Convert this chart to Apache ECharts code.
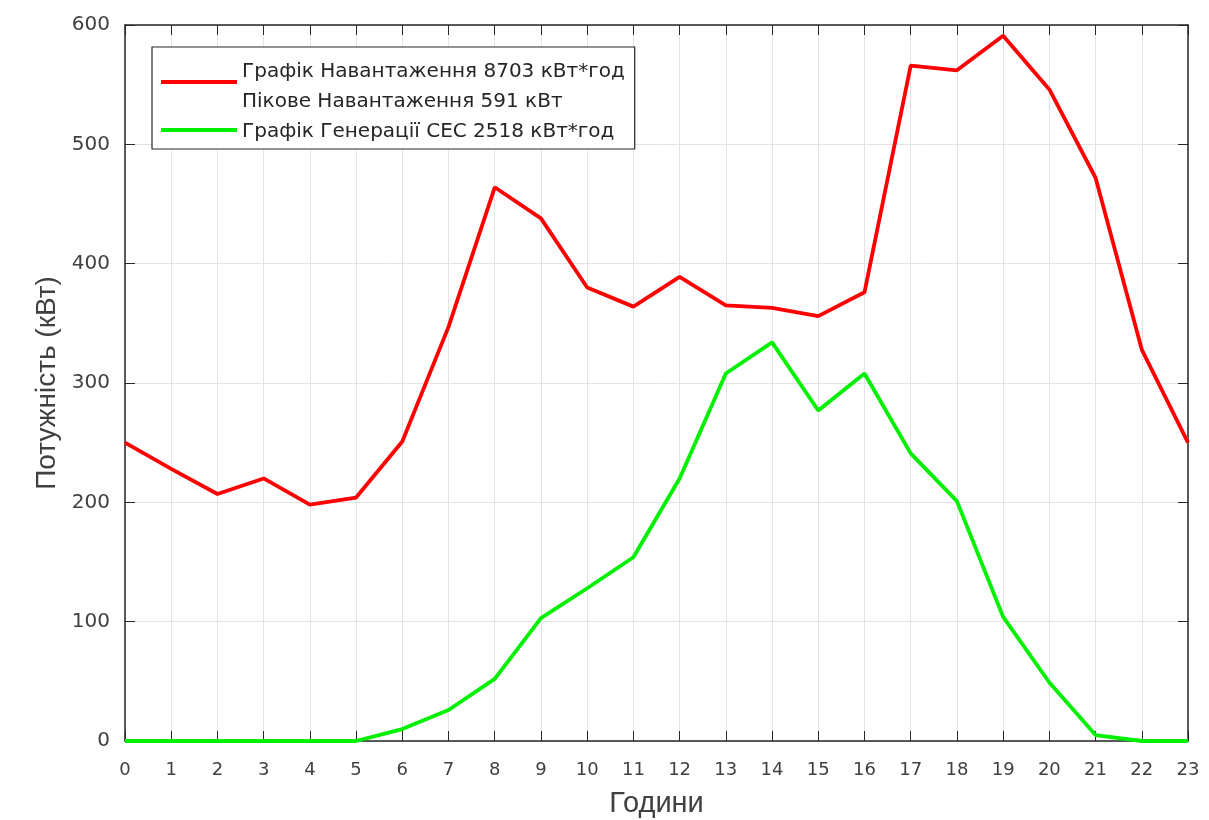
<!DOCTYPE html>
<html>
<head>
<meta charset="utf-8">
<script src="https://cdn.jsdelivr.net/npm/echarts@6/dist/echarts.min.js"></script>
<style>html,body{margin:0;padding:0;background:#fff;}#c{width:1209px;height:820px;}</style>
</head>
<body>
<div id="c"></div>
<script>
const hours = ['0','1','2','3','4','5','6','7','8','9','10','11','12','13','14','15','16','17','18','19','20','21','22','23'];
const load = [250,228,207,220,198,204,251,347,464,438,380,364,389,365,363,356,376,566,562,591,546,472,328,250];
const solar = [0,0,0,0,0,0,10,26,52,103,128,154,220,308,334,277,308,241,201,104,49,5,0,0];
const yTicks = {min:0, max:600, interval:100};
const names = ['Графік Навантаження 8703 кВт*год','Пікове Навантаження 591 кВт','Графік Генерації СЕС 2518 кВт*год'];
const xTitle = 'Години';
const yTitle = 'Потужність (кВт)';

const FONT = 'Liberation Sans, Arial, sans-serif';
const WIDE = 'DejaVu Sans, sans-serif';
const frame = '#262626';
const RED = '#ff0000', GREEN = '#00f000';
const chart = echarts.init(document.getElementById('c'));
const xBase = {
  type:'category', data:hours, boundaryGap:false,
  axisLine:{show:true, onZero:false, lineStyle:{color:frame, width:1.5}},
  axisTick:{show:true, inside:true, length:10, alignWithLabel:true, lineStyle:{color:frame}},
};
const yBase = {
  type:'value', min:yTicks.min, max:yTicks.max, interval:yTicks.interval,
  axisLine:{show:true, lineStyle:{color:frame, width:1.5}},
  axisTick:{show:true, inside:true, length:10, lineStyle:{color:frame}},
};
chart.setOption({
  animation:false,
  backgroundColor:'#fff',
  grid:{left:125, right:21, top:25, bottom:79, containLabel:false, outerBoundsMode:'none'},
  legend:{
    orient:'vertical', left:152, top:47,
    data:names,
    icon:'rect', itemWidth:76, itemHeight:4, itemGap:10,
    padding:[15, 10, 7, 9],
    itemStyle:{opacity:0},
    borderColor:frame, borderWidth:1.2, backgroundColor:'#fff',
    textStyle:{fontFamily:WIDE, fontSize:20, color:'#262626'},
    selectedMode:false
  },
  graphic:[
    {type:'line', z:100, shape:{x1:161, y1:82, x2:237, y2:82}, style:{stroke:RED, lineWidth:4}},
    {type:'line', z:100, shape:{x1:161, y1:130, x2:237, y2:130}, style:{stroke:GREEN, lineWidth:4}}
  ],
  xAxis:[
    Object.assign({}, xBase, {
      position:'bottom',
      axisLabel:{fontFamily:WIDE, fontSize:18, color:'#404040', margin:20},
      splitLine:{show:true, lineStyle:{color:'#e3e3e3', width:1}},
      name:xTitle, nameLocation:'middle', nameGap:48,
      nameTextStyle:{fontFamily:FONT, fontSize:29, color:'#404040'}
    }),
    Object.assign({}, xBase, {position:'top', axisLabel:{show:false}, splitLine:{show:false}})
  ],
  yAxis:[
    Object.assign({}, yBase, {
      position:'left',
      axisLabel:{fontFamily:WIDE, fontSize:20, color:'#404040', margin:15},
      splitLine:{show:true, lineStyle:{color:'#e3e3e3', width:1}},
      name:yTitle, nameLocation:'middle', nameGap:63,
      nameTextStyle:{fontFamily:FONT, fontSize:28, color:'#404040'}
    }),
    Object.assign({}, yBase, {position:'right', axisLabel:{show:false}, splitLine:{show:false}})
  ],
  series:[
    {name:names[0], type:'line', data:load, showSymbol:false, symbol:'none',
     itemStyle:{color:RED}, lineStyle:{color:RED, width:3.8}, z:3},
    {name:names[1], type:'line', data:[], showSymbol:false, symbol:'none',
     itemStyle:{color:'rgba(0,0,0,0)'}, lineStyle:{color:'rgba(0,0,0,0)', width:0}},
    {name:names[2], type:'line', data:solar, showSymbol:false, symbol:'none',
     itemStyle:{color:GREEN}, lineStyle:{color:GREEN, width:3.8}, z:3}
  ]
});
</script>
</body>
</html>
